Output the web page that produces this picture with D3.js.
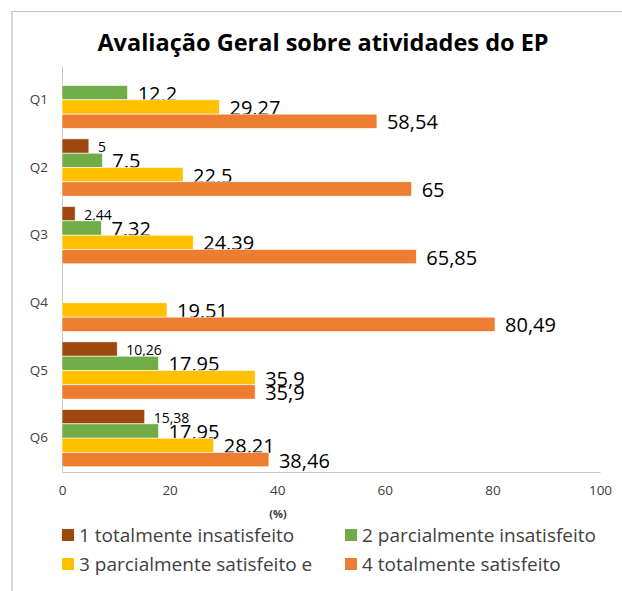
<!DOCTYPE html>
<html>
<head>
<meta charset="utf-8">
<script src="https://cdn.jsdelivr.net/npm/d3@7"></script>
<style>
  body { margin:0; background:#fff; }
  text { font-family: "Open Sans", sans-serif; }
</style>
</head>
<body>
<svg width="622" height="591"></svg>
<script>
// data (null = no bar drawn)
const questions = ["Q1", "Q2", "Q3", "Q4", "Q5", "Q6"];
const seriesNames = ["1 totalmente insatisfeito", "2 parcialmente insatisfeito",
                     "3 parcialmente satisfeito e", "4 totalmente satisfeito"];
const totInsat  = [null, 5, 2.44, null, 10.26, 15.38];
const parcInsat = [12.2, 7.5, 7.32, null, 17.95, 17.95];
const parcSat   = [29.27, 22.5, 24.39, 19.51, 35.9, 28.21];
const totSat    = [58.54, 65, 65.85, 80.49, 35.9, 38.46];
const xTicks = [0, 20, 40, 60, 80, 100];
const colors = ["#9e480e", "#70ad47", "#ffc000", "#ed7d31"];

const allSeries = [totInsat, parcInsat, parcSat, totSat];

const render = () => {
    const margin = { top:66, left:62, right:22, bottom:119 };
    const svg = d3.select('svg');
    const width = +svg.attr('width');
    const height = +svg.attr('height');
    const innerWidth = width - margin.left - margin.right;
    const innerHeight = height - margin.top - margin.bottom;

    // outer frame (only top/left edges visible in the reference)
    svg.append('path')
        .attr('d', 'M12,' + (height + 2) + 'V11.5H' + (width + 2))
        .attr('fill', 'none')
        .attr('stroke', '#c0c0c0')
        .attr('stroke-width', 1.2);

    svg.append('text')
        .attr('x', 323).attr('y', 51)
        .attr('text-anchor', 'middle')
        .style('font-size', '23.5px')
        .style('font-weight', 'bold')
        .attr('fill', '#000')
        .text('Avaliação Geral sobre atividades do EP');

    const g = svg.append('g')
        .attr('transform', `translate(${margin.left},${margin.top})`);

    //scales
    const xScale = d3.scaleLinear().domain([0, 100]).range([0, innerWidth]);
    const yScale = d3.scaleBand().domain(questions).range([0, innerHeight]).padding(0);
    const innerScale = d3.scaleBand()
        .domain(d3.range(4))
        .range([yScale.bandwidth() * 0.077, yScale.bandwidth() * 0.923])
        .padding(0);

    //axes
    const xAxis = d3.axisBottom(xScale).tickValues(xTicks).tickSize(0).tickPadding(13);
    const yAxis = d3.axisLeft(yScale).tickSize(0).tickPadding(14);

    const xg = g.append('g')
        .attr('transform', `translate(0,${innerHeight})`)
        .call(xAxis);
    xg.select('.domain').attr('stroke', '#c8c8c8');
    xg.selectAll('text').style('font-size', '13.5px').attr('fill', '#404040');

    const yg = g.append('g').call(yAxis);
    yg.select('.domain').attr('stroke', '#c8c8c8');
    yg.selectAll('text').style('font-size', '13.5px').attr('fill', '#404040');

    // bars
    allSeries.forEach((vals, si) => {
        const rows = questions.map((q, i) => ({ q: q, v: vals[i] })).filter(d => d.v != null);
        const sg = g.append('g');
        sg.selectAll('rect').data(rows)
            .enter().append('rect')
            .attr('x', 0)
            .attr('y', d => yScale(d.q) + innerScale(si))
            .attr('width', d => xScale(d.v))
            .attr('height', innerScale.bandwidth())
            .attr('fill', colors[si])
            .attr('stroke', '#fff')
            .attr('stroke-width', 0.6);
        sg.selectAll('text').data(rows)
            .enter().append('text')
            .attr('x', d => xScale(d.v) + (si === 0 ? 9 : 10))
            .attr('y', d => yScale(d.q) + innerScale(si) + innerScale.bandwidth() / 2 + 0.5)
            .attr('dominant-baseline', 'central')
            .style('font-size', si === 0 ? '14px' : '20px')
            .attr('fill', '#000')
            .text(d => String(d.v).replace('.', ','));
    });

    svg.append('text')
        .attr('x', 278).attr('y', 518)
        .attr('text-anchor', 'middle')
        .style('font-size', '11px')
        .style('font-weight', 'bold')
        .attr('fill', '#404040')
        .text('(%)');

    // legend
    const legPos = [[62, 535], [345, 535], [62, 564], [345, 564]];
    const leg = svg.append('g').selectAll('g').data(seriesNames)
        .enter().append('g')
        .attr('transform', (d, i) => `translate(${legPos[i][0]},${legPos[i][1]})`);
    leg.append('rect')
        .attr('x', 0).attr('y', -6).attr('width', 12).attr('height', 12)
        .attr('fill', (d, i) => colors[i]);
    leg.append('text')
        .attr('x', 17).attr('y', 0)
        .attr('dominant-baseline', 'central')
        .style('font-size', '19px')
        .attr('fill', '#404040')
        .text(d => d);
};

render();
</script>
</body>
</html>
